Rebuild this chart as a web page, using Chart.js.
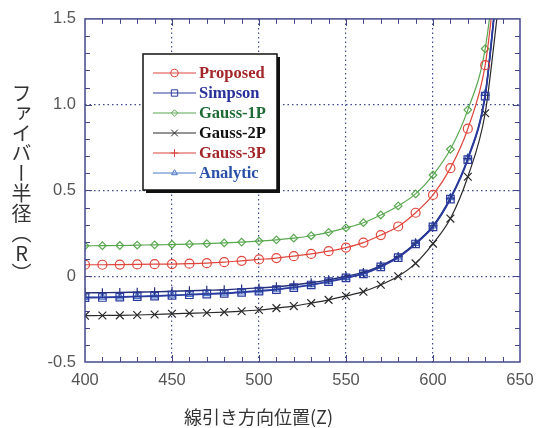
<!DOCTYPE html>
<html><head><meta charset="utf-8">
<script src="https://cdn.jsdelivr.net/npm/chart.js@4/dist/chart.umd.min.js"></script>
<style>
html,body{margin:0;padding:0;background:#fff;}
#wrap{position:relative;width:549px;height:428px;overflow:hidden;}
canvas{position:absolute;left:0;top:0;}
#ytitle{position:absolute;left:9px;top:83px;writing-mode:vertical-rl;font-family:"Noto Sans CJK JP",sans-serif;font-size:20px;color:#333;line-height:24px;}
#ytitle span{text-orientation:upright;}
#xtitle{position:absolute;left:184px;top:405px;font-family:"Noto Sans CJK JP",sans-serif;font-size:18px;color:#333;white-space:nowrap;line-height:22px;}
</style></head>
<body><div id="wrap"><canvas id="c" width="549" height="428"></canvas>
<div id="ytitle">ファイバー半径（<span>R</span>）</div><div id="xtitle">線引き方向位置(Z)</div></div>
<script>
// Z positions (last two points are beyond the top of the plot, drawn without markers)
const zPos = [400,410,420,430,440,450,460,470,480,490,500,510,520,530,540,550,560,570,580,590,600,610,620,630,635,640];
const proposed = [0.067,0.067,0.068,0.069,0.070,0.071,0.073,0.076,0.082,0.090,0.098,0.106,0.117,0.130,0.146,0.167,0.196,0.240,0.290,0.370,0.474,0.630,0.860,1.230,1.650,2.200];
const simpson  = [-0.125,-0.124,-0.122,-0.119,-0.116,-0.112,-0.108,-0.104,-0.100,-0.094,-0.087,-0.078,-0.066,-0.051,-0.032,-0.010,0.014,0.055,0.108,0.188,0.288,0.450,0.680,1.050,1.500,2.000];
const gauss1P  = [0.177,0.178,0.179,0.181,0.183,0.185,0.187,0.190,0.194,0.199,0.205,0.212,0.222,0.236,0.256,0.282,0.312,0.357,0.410,0.480,0.590,0.740,0.970,1.326,1.750,2.400];
const gauss2P  = [-0.230,-0.229,-0.228,-0.226,-0.223,-0.219,-0.216,-0.213,-0.209,-0.204,-0.197,-0.186,-0.174,-0.157,-0.138,-0.115,-0.090,-0.050,0.000,0.075,0.190,0.336,0.580,0.950,1.350,1.800];
const gauss3P  = [-0.097,-0.096,-0.095,-0.093,-0.091,-0.088,-0.085,-0.082,-0.079,-0.074,-0.068,-0.061,-0.051,-0.038,-0.021,0.000,0.022,0.062,0.114,0.193,0.293,0.455,0.685,1.055,1.510,2.010];
const analytic = [-0.123,-0.122,-0.120,-0.117,-0.114,-0.110,-0.106,-0.102,-0.098,-0.092,-0.085,-0.076,-0.064,-0.049,-0.030,-0.008,0.017,0.058,0.112,0.192,0.293,0.458,0.690,1.065,1.520,2.030];
const xTicks = [400,450,500,550,600,650];
const yTicks = [-0.5,0,0.5,1.0,1.5];

const seriesNames = ['Proposed','Simpson','Gauss-1P','Gauss-2P','Gauss-3P','Analytic'];
const seriesValues = [proposed,simpson,gauss1P,gauss2P,gauss3P,analytic];
const lineColors = ['#e0463c','#2c3a9e','#5aa850','#2a2a2a','#26307a','#4a78c8'];
const legendLineColors = ['#e0463c','#2c3a9e','#5aa850','#2a2a2a','#d9443a','#4a78c8'];
const legendTextColors = ['#a3262a','#28309a','#1f6b35','#111111','#a3262a','#2850a8'];
const pointStyles = ['circle','rect','rectRot','crossRot','cross','triangle'];
const pointSizes = [4.5,5.3,3.8,5.5,4.5,4];
const lineWidths = [1.2,1.6,1.2,1.2,1.4,1.4];

const datasets = seriesNames.map((name,k)=>({
  label:name,
  data: zPos.map((z,i)=>({x:z,y:seriesValues[k][i]})),
  borderColor: lineColors[k],
  backgroundColor: 'rgba(0,0,0,0)',
  borderWidth: lineWidths[k],
  pointStyle: pointStyles[k],
  pointRadius: ctx => (zPos[ctx.dataIndex] <= 630 ? pointSizes[k] : 0),
  pointBorderColor: lineColors[k],
  pointBorderWidth: 1.2,
  pointHoverRadius: 0,
  cubicInterpolationMode: 'monotone',
  clip: 0
}));

const axisColor = '#44488a';
const gridColor = '#3c4a8a';

const framePlugin = {
  id:'frame',
  afterDatasetsDraw(chart){
    const {ctx, chartArea:a, scales:{x,y}} = chart;
    ctx.save();
    ctx.strokeStyle = axisColor;
    ctx.lineWidth = 1.5;
    ctx.strokeRect(a.left, a.top, a.right-a.left, a.bottom-a.top);
    ctx.lineWidth = 1;
    for(let v=410; v<650; v+=10){
      const px = Math.round(x.getPixelForValue(v))+0.5;
      const len = (v%50===0)?7:5;
      ctx.beginPath();
      ctx.moveTo(px,a.bottom); ctx.lineTo(px,a.bottom-len);
      ctx.moveTo(px,a.top); ctx.lineTo(px,a.top+len);
      ctx.stroke();
    }
    for(let i=-4;i<15;i++){
      const v=i/10;
      const py = Math.round(y.getPixelForValue(v))+0.5;
      const len = (i%5===0)?7:5;
      ctx.beginPath();
      ctx.moveTo(a.left,py); ctx.lineTo(a.left+len,py);
      ctx.moveTo(a.right,py); ctx.lineTo(a.right-len,py);
      ctx.stroke();
    }
    ctx.restore();
  },
  afterDraw(chart){
    const ctx = chart.ctx;
    const bx=143, by=54, bw=134, bh=136;
    ctx.save();
    ctx.fillStyle='#111';
    ctx.fillRect(bx+3,by+3,bw,bh);
    ctx.fillStyle='#fff';
    ctx.fillRect(bx,by,bw,bh);
    ctx.strokeStyle='#111';
    ctx.lineWidth=1.5;
    ctx.strokeRect(bx,by,bw,bh);
    ctx.font='bold 16.5px "Liberation Serif"';
    ctx.textBaseline='middle';
    seriesNames.forEach((name,k)=>{
      const ry = 73 + k*20;
      ctx.strokeStyle = legendLineColors[k];
      ctx.lineWidth = 1.2;
      ctx.beginPath(); ctx.moveTo(153,ry); ctx.lineTo(196,ry); ctx.stroke();
      ctx.strokeStyle = legendLineColors[k];
      ctx.fillStyle = 'rgba(0,0,0,0)';
      ctx.lineWidth = 1;
      Chart.helpers.drawPoint(ctx,{pointStyle:pointStyles[k],radius:pointSizes[k]*0.85,rotation:0,borderWidth:1},174.5,ry);
      ctx.fillStyle = legendTextColors[k];
      ctx.fillText(name,199,ry+1);
    });
    ctx.restore();
  }
};

const hideEdge = (lo,hi) => c => (c.tick && (c.tick.value===lo||c.tick.value===hi)) ? 'rgba(0,0,0,0)' : gridColor;

new Chart(document.getElementById('c'),{
  type:'line',
  data:{datasets},
  options:{
    responsive:false,
    animation:false,
    events:[],
    layout:{padding:{left:0,right:29,top:15,bottom:0}},
    plugins:{legend:{display:false},tooltip:{enabled:false},title:{display:false}},
    scales:{
      x:{
        type:'linear', min:400, max:650,
        afterBuildTicks: s => { s.ticks = xTicks.map(v=>({value:v})); },
        afterFit: s => { s.height = 66; },
        border:{display:false, dash:[1.5,3]},
        grid:{drawTicks:false, color: hideEdge(400,650), lineWidth:1.2},
        ticks:{padding:9,color:'#555',font:{family:'"Liberation Sans"',size:16.5},maxRotation:0,
               callback:v=>String(v)}
      },
      y:{
        type:'linear', min:-0.5, max:1.5,
        afterBuildTicks: s => { s.ticks = yTicks.map(v=>({value:v})); },
        afterFit: s => { s.width = 85; },
        border:{display:false, dash:[1.5,3]},
        grid:{drawTicks:false, color: hideEdge(-0.5,1.5), lineWidth:1.2},
        ticks:{padding:9,color:'#555',font:{family:'"Liberation Sans"',size:16.5},
               callback:v=> v===0 ? '0' : Number(v).toFixed(1)}
      }
    }
  },
  plugins:[framePlugin]
});
</script>
</body></html>
